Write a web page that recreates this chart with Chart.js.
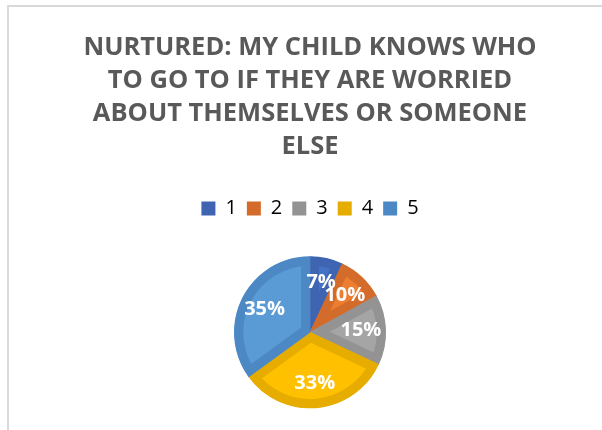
<!DOCTYPE html>
<html>
<head>
<meta charset="utf-8">
<script src="https://cdn.jsdelivr.net/npm/chart.js@4"></script>
<style>
  html, body { margin: 0; padding: 0; background: #fff; overflow: hidden; }
  body { width: 602px; height: 430px; position: relative; }
  #frame {
    position: absolute; left: 7px; top: 5px; width: 620px; height: 440px;
    border-left: 2px solid #d9d9d9; border-top: 2px solid #d9d9d9;
  }
  #wrap { position: absolute; left: 8px; top: 7px; width: 604px; height: 460px; }
</style>
</head>
<body>
<div id="frame"></div>
<div id="wrap"><canvas id="c"></canvas></div>
<script>
const titleLines = [
  'NURTURED: MY CHILD KNOWS WHO',
  'TO GO TO IF THEY ARE WORRIED',
  'ABOUT THEMSELVES OR SOMEONE',
  'ELSE'
];
const categories = ['1', '2', '3', '4', '5'];
const percentages = [7, 10, 15, 33, 35];
const fillColors = ['#4472C4', '#ED7D31', '#A5A5A5', '#FFC000', '#5B9BD5'];
const edgeColors = ['#3F65B2', '#D36B2A', '#939393', '#E6AC00', '#4C89C4'];

// White percentage labels placed inside each slice
const sliceLabels = {
  id: 'sliceLabels',
  afterDatasetsDraw(chart) {
    const ctx = chart.ctx;
    const meta = chart.getDatasetMeta(0);
    const data = chart.data.datasets[0].data;
    ctx.save();
    ctx.font = 'bold 20px "Open Sans", sans-serif';
    ctx.fillStyle = '#ffffff';
    ctx.textAlign = 'center';
    ctx.textBaseline = 'middle';
    meta.data.forEach((arc, i) => {
      const p = arc.getProps(['x', 'y', 'startAngle', 'endAngle', 'outerRadius'], true);
      const mid = (p.startAngle + p.endAngle) / 2;
      const r = p.outerRadius * 0.67;
      ctx.fillText(data[i] + '%', p.x + Math.cos(mid) * r, p.y + Math.sin(mid) * r);
    });
    ctx.restore();
  }
};

new Chart(document.getElementById('c'), {
  type: 'pie',
  data: {
    labels: categories,
    datasets: [{
      data: percentages,
      backgroundColor: fillColors,
      borderColor: edgeColors,
      borderWidth: 9,
      borderAlign: 'inner'
    }]
  },
  plugins: [sliceLabels],
  options: {
    responsive: true,
    maintainAspectRatio: false,
    animation: false,
    radius: 76,
    layout: { padding: { top: 24, bottom: 31 } },
    plugins: {
      title: {
        display: true,
        text: titleLines,
        color: '#595959',
        font: { family: '"Open Sans", sans-serif', size: 25.5, weight: 'bold', lineHeight: 1.3 },
        padding: { top: 0, bottom: 25 }
      },
      legend: {
        position: 'top',
        labels: {
          color: '#595959',
          font: { family: '"Open Sans", sans-serif', size: 20 },
          boxWidth: 14,
          boxHeight: 14,
          padding: 10,
          generateLabels(chart) {
            return chart.data.labels.map((l, i) => ({
              text: l,
              fillStyle: edgeColors[i],
              strokeStyle: edgeColors[i],
              lineWidth: 0,
              index: i,
              hidden: false
            }));
          }
        },
        onClick: null
      },
      tooltip: { enabled: false }
    }
  }
});
</script>
</body>
</html>
